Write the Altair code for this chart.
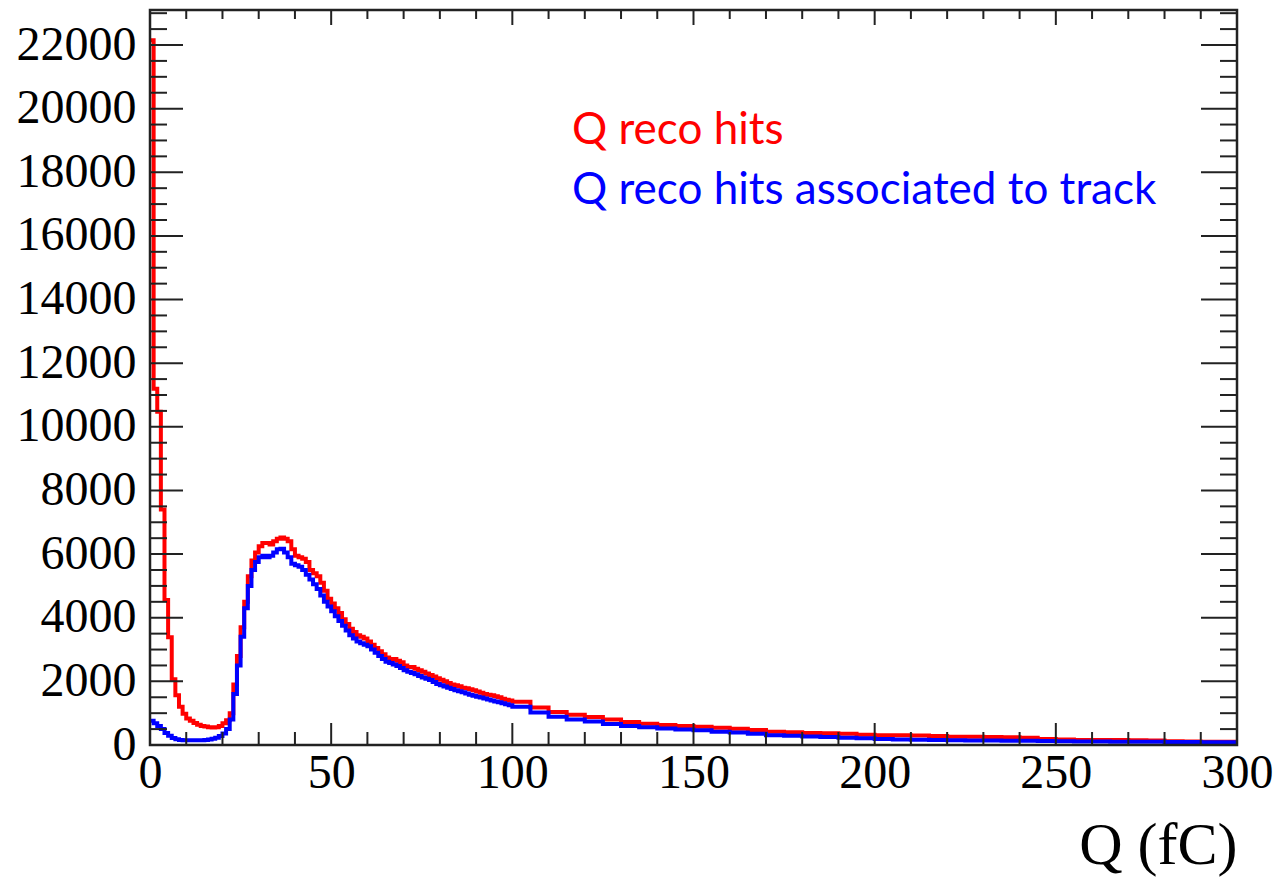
import altair as alt
import pandas as pd

# ---------------- data ----------------
# 1 fC bins from 0 to 100 fC
red_fine = [22150, 11200, 10470, 7400, 4560, 3390, 2070, 1560, 1200, 980,
            830, 760, 690, 640, 600, 580, 560, 550, 560, 600,
            680, 780, 1000, 1900, 2800, 3700, 4500, 5300, 5800, 6050,
            6250, 6350, 6350, 6300, 6400, 6480, 6520, 6480, 6400, 6150,
            5950, 5900, 5850, 5750, 5500, 5400, 5300, 5100, 4850, 4600,
            4450, 4300, 4150, 3950, 3800, 3650, 3550, 3450, 3400, 3350,
            3250, 3150, 3050, 2950, 2850, 2750, 2700, 2700, 2650, 2600,
            2500, 2450, 2450, 2400, 2350, 2300, 2250, 2200, 2150, 2100,
            2050, 2000, 1950, 1900, 1880, 1850, 1800, 1780, 1750, 1720,
            1680, 1640, 1600, 1580, 1560, 1530, 1500, 1450, 1420, 1400]
blue_fine = [760, 680, 600, 500, 380, 290, 220, 180, 160, 150,
             150, 150, 150, 150, 150, 160, 170, 200, 230, 280,
             360, 500, 800, 1600, 2500, 3400, 4300, 5000, 5500, 5750,
             5900, 5950, 5900, 5950, 6050, 6150, 6170, 6050, 5900, 5700,
             5650, 5600, 5500, 5350, 5200, 5050, 4900, 4700, 4500, 4350,
             4200, 4050, 3900, 3750, 3600, 3450, 3350, 3250, 3200, 3150,
             3100, 3000, 2900, 2800, 2700, 2620, 2580, 2530, 2480, 2420,
             2350, 2300, 2260, 2220, 2170, 2120, 2080, 2040, 1980, 1920,
             1880, 1840, 1800, 1760, 1720, 1690, 1660, 1620, 1580, 1550,
             1520, 1490, 1460, 1430, 1400, 1370, 1340, 1310, 1280, 1250]
# 5 fC groups from 100 to 300 fC
red_tail = [1360, 1180, 1040, 950, 880, 800, 720, 670, 630, 600,
            570, 540, 510, 470, 420, 400, 380, 370, 350, 320,
            310, 310, 300, 280, 260, 260, 250, 240, 230, 190,
            170, 160, 160, 160, 150, 140, 120, 110, 100, 100]
blue_tail = [1200, 1020, 890, 800, 740, 660, 600, 560, 520, 490,
             460, 420, 390, 350, 310, 290, 270, 250, 230, 210,
             190, 175, 165, 155, 150, 145, 140, 135, 130, 125,
             115, 110, 110, 105, 100, 100, 95, 95, 90, 90]

fine_edges = list(range(0, 100))
tail_edges = list(range(100, 300, 5))
x_end = 300

y_major = list(range(0, 22001, 2000))
y_minor = [v for v in range(500, 23001, 500) if v % 2000 != 0]
x_major = list(range(0, 301, 50))
x_minor = [v for v in range(10, 300, 10) if v % 50 != 0]

label_red = "Q reco hits"
label_blue = "Q reco hits associated to track"

# ---------------- build ----------------
W, H = 1087, 735


def hist_frame(fine, tail):
    edges = fine_edges + tail_edges + [x_end]
    vals = fine + tail + [tail[-1]]
    return pd.DataFrame({"q": edges, "n": vals})


xscale = alt.Scale(domain=[0, 300], nice=False, zero=False)
yscale = alt.Scale(domain=[0, 23100], nice=False, zero=False)

serif = "Liberation Serif"
xaxis = alt.Axis(values=x_major, format="d", labelFont=serif, labelFontSize=48,
                 labelColor="black", labelPadding=4, labelFlush=False,
                 labelOverlap=False, ticks=False, domain=False, grid=False,
                 title="Q (fC)", titleFont=serif, titleFontSize=60,
                 titleFontWeight="normal", titleColor="black",
                 titleAnchor="end", titleAlign="right", titleX=W, titleY=118,
                 titleBaseline="alphabetic")
yaxis = alt.Axis(values=y_major, format="d", labelFont=serif, labelFontSize=48,
                 labelColor="black", labelPadding=14, labelFlush=False,
                 labelOverlap=False, ticks=False, domain=False, grid=False,
                 title="")

X = lambda f: alt.X(f, type="quantitative", scale=xscale, axis=xaxis)
Y = lambda f: alt.Y(f, type="quantitative", scale=yscale, axis=yaxis)

red = alt.Chart(hist_frame(red_fine, red_tail)).mark_line(
    interpolate="step-after", color="#ff0000", strokeWidth=4, clip=True
).encode(x=X("q"), y=Y("n"))

blue = alt.Chart(hist_frame(blue_fine, blue_tail)).mark_line(
    interpolate="step-after", color="#0000ff", strokeWidth=4, clip=True
).encode(x=X("q"), y=Y("n"))

tick_color = "#222222"


def yrules(vals, x0, x1):
    return alt.Chart(pd.DataFrame({"v": vals})).mark_rule(
        color=tick_color, strokeWidth=2).encode(
        y=Y("v"), x=alt.value(x0), x2=alt.value(x1))


def xrules(vals, y0, y1):
    return alt.Chart(pd.DataFrame({"v": vals})).mark_rule(
        color=tick_color, strokeWidth=2).encode(
        x=X("v"), y=alt.value(y0), y2=alt.value(y1))


ticks = [
    yrules(y_major, 0, 33), yrules(y_minor, 0, 17),
    yrules(y_major, W - 36, W), yrules(y_minor, W - 17, W),
    xrules(x_major, H, H - 22), xrules(x_minor, H, H - 13),
    xrules(x_major, 0, 15), xrules(x_minor, 0, 9),
]

frame = alt.Chart(pd.DataFrame({"k": [0]})).mark_rect(
    fill=None, stroke="#222222", strokeWidth=2.5).encode(
    x=alt.value(0), x2=alt.value(W), y=alt.value(0), y2=alt.value(H))

leg_font = "Lato"
txt_red = alt.Chart(pd.DataFrame({"t": [label_red]})).mark_text(
    align="left", baseline="alphabetic", font=leg_font, fontSize=44,
    color="#ff0000").encode(text="t:N", x=alt.value(422), y=alt.value(134))
txt_blue = alt.Chart(pd.DataFrame({"t": [label_blue]})).mark_text(
    align="left", baseline="alphabetic", font=leg_font, fontSize=44,
    color="#0000ff").encode(text="t:N", x=alt.value(422), y=alt.value(194))

chart = alt.layer(red, blue, *ticks, frame, txt_red, txt_blue).properties(
    width=W, height=H,
    autosize=alt.AutoSizeParams(type="none"),
    padding={"left": 150, "top": 10, "right": 41, "bottom": 137},
).configure_view(stroke=None).configure(background="white")

chart.save("out.html", embed_options={"renderer": "svg", "actions": False})
